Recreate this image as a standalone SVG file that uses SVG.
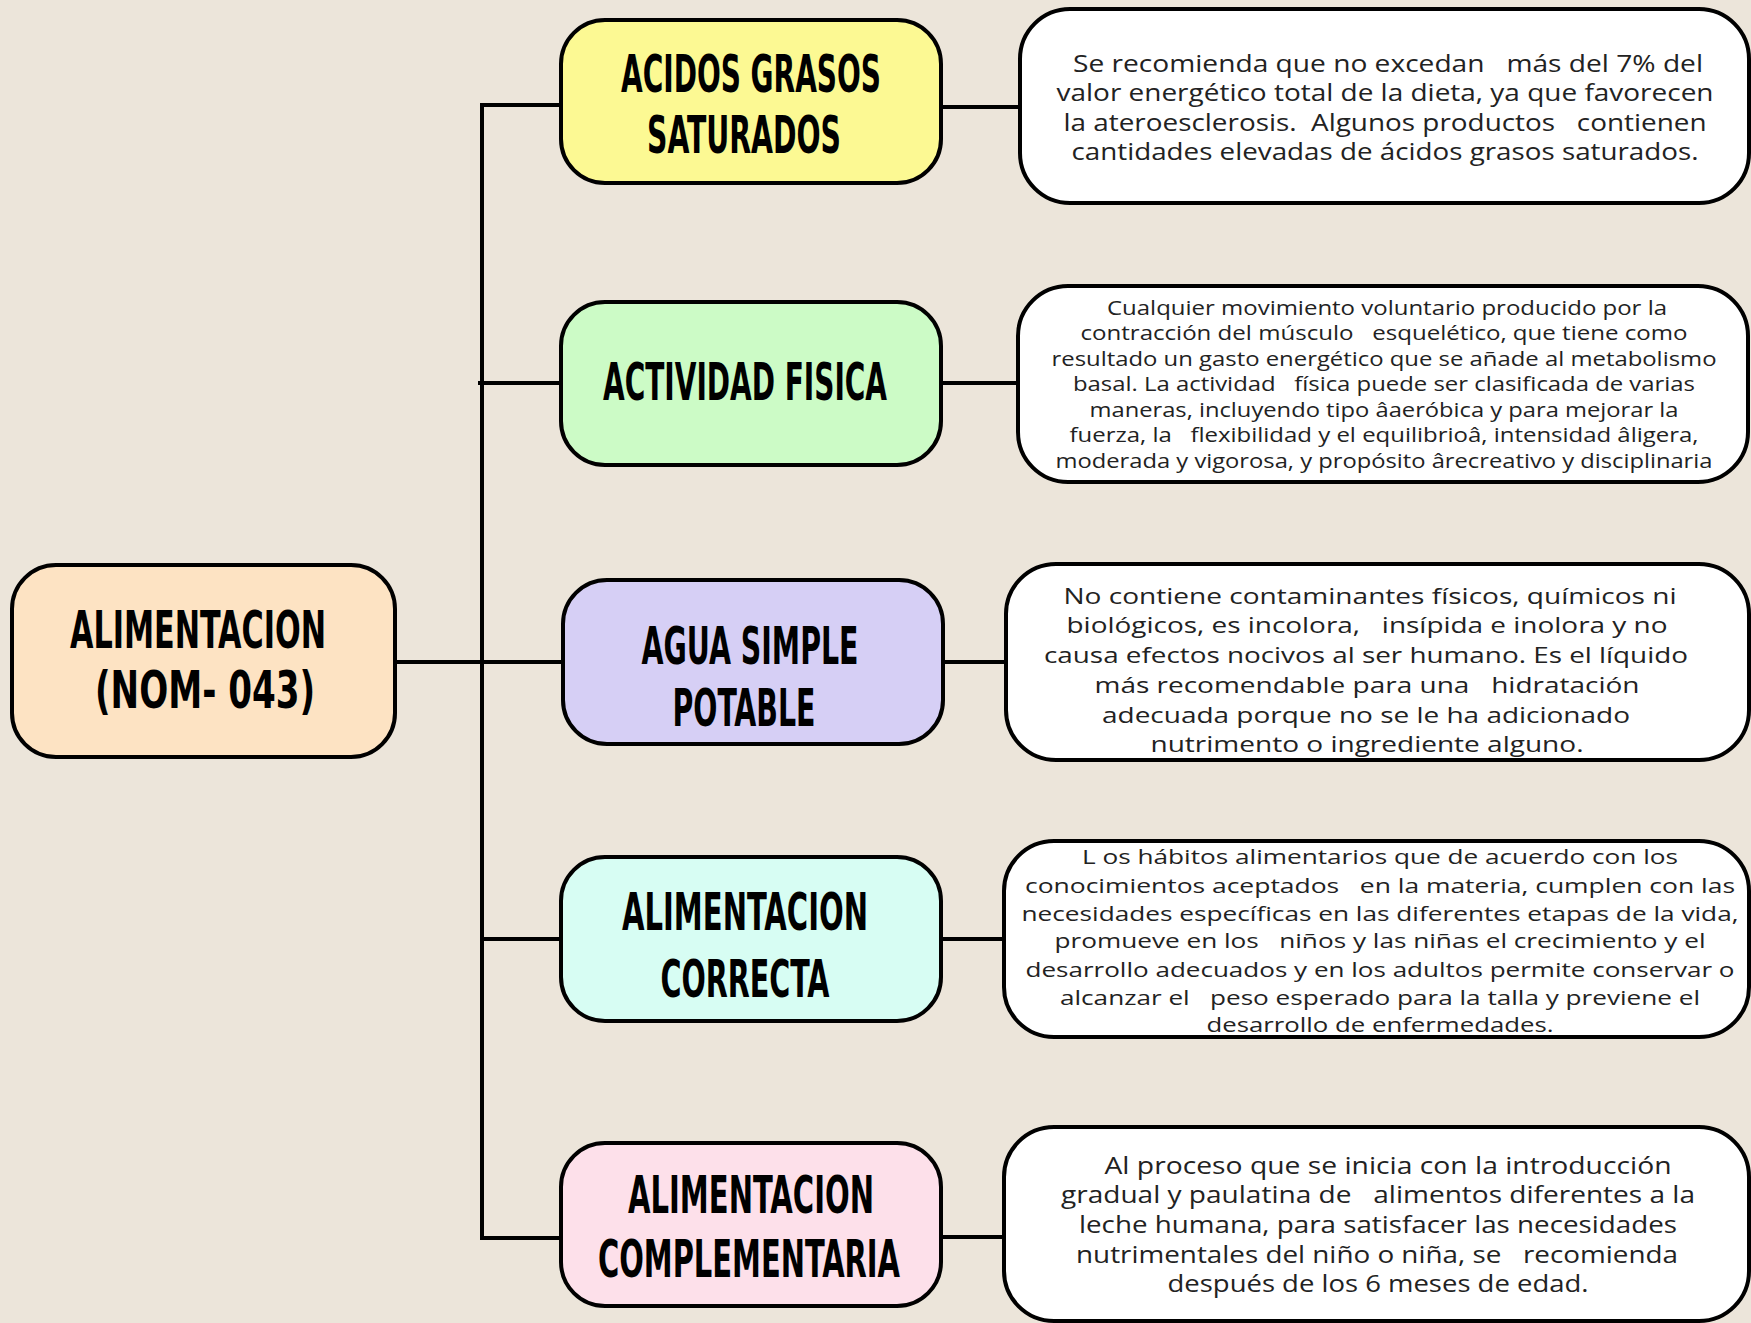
<svg xmlns="http://www.w3.org/2000/svg" width="1751" height="1323" viewBox="0 0 1751 1323">
<style>
.bg{fill:#ece5da}
.box{stroke:#000;stroke-width:4}
.wbox{fill:#fff;stroke:#000;stroke-width:4}
.conn line{stroke:#000;stroke-width:4;stroke-linecap:square}
.hd{font-family:"Liberation Sans Narrow","DejaVu Sans Condensed","Liberation Sans",sans-serif;font-weight:bold;font-size:52px;fill:#000;text-anchor:middle}
.bd{font-family:"Open Sans","Noto Sans","Liberation Sans",sans-serif;fill:#222;text-anchor:middle;font-size:23px;white-space:pre}
.lg{font-size:22.5px}
.sm{font-size:19.5px}
.md{font-size:20.5px}
</style>
<rect class="bg" x="0" y="0" width="1751" height="1323"/>
<g id="connectors" class="conn">
<line x1="482" y1="105" x2="482" y2="1238"/>
<line x1="482" y1="105" x2="561" y2="105"/>
<line x1="480" y1="383" x2="561" y2="383"/>
<line x1="395" y1="662" x2="563" y2="662"/>
<line x1="484" y1="939" x2="561" y2="939"/>
<line x1="482" y1="1238" x2="561" y2="1238"/>
<line x1="941" y1="107" x2="1020" y2="107"/>
<line x1="941" y1="383" x2="1018" y2="383"/>
<line x1="943" y1="662" x2="1006" y2="662"/>
<line x1="941" y1="939" x2="1004" y2="939"/>
<line x1="941" y1="1237" x2="1004" y2="1237"/>
</g>
<g id="n-alimentacion">
<rect class="box" x="12" y="565" width="383" height="192" rx="44" fill="#fde3c3"/>
<text class="hd" font-size="56" x="198" y="648" textLength="256" lengthAdjust="spacingAndGlyphs">ALIMENTACION</text>
<text class="hd" font-size="56" x="205" y="708" textLength="220" lengthAdjust="spacingAndGlyphs">(NOM- 043)</text>
</g>
<g id="n-acidos">
<rect class="box" x="561" y="20" width="380" height="163" rx="44" fill="#fcf993"/>
<text class="hd" x="751" y="92" textLength="260" lengthAdjust="spacingAndGlyphs">ACIDOS GRASOS</text>
<text class="hd" x="744" y="153" textLength="194" lengthAdjust="spacingAndGlyphs">SATURADOS</text>
</g>
<g id="n-actividad">
<rect class="box" x="561" y="302" width="380" height="163" rx="44" fill="#ccfbc6"/>
<text class="hd" x="745" y="400" textLength="284" lengthAdjust="spacingAndGlyphs">ACTIVIDAD FISICA</text>
</g>
<g id="n-agua">
<rect class="box" x="563" y="580" width="380" height="164" rx="44" fill="#d6cff5"/>
<text class="hd" x="750" y="664" textLength="217" lengthAdjust="spacingAndGlyphs">AGUA SIMPLE</text>
<text class="hd" x="744" y="726" textLength="143" lengthAdjust="spacingAndGlyphs">POTABLE</text>
</g>
<g id="n-correcta">
<rect class="box" x="561" y="857" width="380" height="164" rx="44" fill="#d7fdf3"/>
<text class="hd" x="745" y="930" textLength="246" lengthAdjust="spacingAndGlyphs">ALIMENTACION</text>
<text class="hd" x="745" y="997" textLength="169" lengthAdjust="spacingAndGlyphs">CORRECTA</text>
</g>
<g id="n-complementaria">
<rect class="box" x="561" y="1143" width="380" height="163" rx="44" fill="#fde0ea"/>
<text class="hd" x="751" y="1213" textLength="246" lengthAdjust="spacingAndGlyphs">ALIMENTACION</text>
<text class="hd" x="749" y="1277" textLength="302" lengthAdjust="spacingAndGlyphs">COMPLEMENTARIA</text>
</g>
<g id="d-acidos">
<rect class="wbox" x="1020" y="9" width="729" height="194" rx="50"/>
<text class="bd" x="1388" y="72" textLength="630" lengthAdjust="spacingAndGlyphs">Se recomienda que no excedan   más del 7% del</text>
<text class="bd" x="1385" y="101" textLength="657" lengthAdjust="spacingAndGlyphs">valor energético total de la dieta, ya que favorecen</text>
<text class="bd" x="1385" y="131" textLength="643" lengthAdjust="spacingAndGlyphs">la ateroesclerosis.  Algunos productos   contienen</text>
<text class="bd" x="1385" y="160" textLength="627" lengthAdjust="spacingAndGlyphs">cantidades elevadas de ácidos grasos saturados.</text>
</g>
<g id="d-actividad">
<rect class="wbox" x="1018" y="286" width="730" height="196" rx="50"/>
<text class="bd sm" x="1387" y="315" textLength="560" lengthAdjust="spacingAndGlyphs">Cualquier movimiento voluntario producido por la</text>
<text class="bd sm" x="1384" y="340" textLength="607" lengthAdjust="spacingAndGlyphs">contracción del músculo   esquelético, que tiene como</text>
<text class="bd sm" x="1384" y="366" textLength="665" lengthAdjust="spacingAndGlyphs">resultado un gasto energético que se añade al metabolismo</text>
<text class="bd sm" x="1384" y="391" textLength="622" lengthAdjust="spacingAndGlyphs">basal. La actividad   física puede ser clasificada de varias</text>
<text class="bd sm" x="1384" y="417" textLength="589" lengthAdjust="spacingAndGlyphs">maneras, incluyendo tipo âaeróbica y para mejorar la</text>
<text class="bd sm" x="1384" y="442" textLength="629" lengthAdjust="spacingAndGlyphs">fuerza, la   flexibilidad y el equilibrioâ, intensidad âligera,</text>
<text class="bd sm" x="1384" y="468" textLength="657" lengthAdjust="spacingAndGlyphs">moderada y vigorosa, y propósito ârecreativo y disciplinaria</text>
</g>
<g id="d-agua">
<rect class="wbox" x="1006" y="564" width="743" height="196" rx="50"/>
<text class="bd lg" x="1370" y="604" textLength="613" lengthAdjust="spacingAndGlyphs">No contiene contaminantes físicos, químicos ni</text>
<text class="bd lg" x="1367" y="633" textLength="601" lengthAdjust="spacingAndGlyphs">biológicos, es incolora,   insípida e inolora y no</text>
<text class="bd lg" x="1366" y="663" textLength="644" lengthAdjust="spacingAndGlyphs">causa efectos nocivos al ser humano. Es el líquido</text>
<text class="bd lg" x="1367" y="693" textLength="545" lengthAdjust="spacingAndGlyphs">más recomendable para una   hidratación</text>
<text class="bd lg" x="1366" y="723" textLength="528" lengthAdjust="spacingAndGlyphs">adecuada porque no se le ha adicionado</text>
<text class="bd lg" x="1367" y="752" textLength="433" lengthAdjust="spacingAndGlyphs">nutrimento o ingrediente alguno.</text>
</g>
<g id="d-correcta">
<rect class="wbox" x="1004" y="841" width="745" height="196" rx="50"/>
<text class="bd md" x="1380" y="864" textLength="596" lengthAdjust="spacingAndGlyphs">L os hábitos alimentarios que de acuerdo con los</text>
<text class="bd md" x="1380" y="893" textLength="710" lengthAdjust="spacingAndGlyphs">conocimientos aceptados   en la materia, cumplen con las</text>
<text class="bd md" x="1380" y="921" textLength="717" lengthAdjust="spacingAndGlyphs">necesidades específicas en las diferentes etapas de la vida,</text>
<text class="bd md" x="1380" y="948" textLength="651" lengthAdjust="spacingAndGlyphs">promueve en los   niños y las niñas el crecimiento y el</text>
<text class="bd md" x="1380" y="977" textLength="709" lengthAdjust="spacingAndGlyphs">desarrollo adecuados y en los adultos permite conservar o</text>
<text class="bd md" x="1380" y="1005" textLength="640" lengthAdjust="spacingAndGlyphs">alcanzar el   peso esperado para la talla y previene el</text>
<text class="bd md" x="1380" y="1032" textLength="347" lengthAdjust="spacingAndGlyphs">desarrollo de enfermedades.</text>
</g>
<g id="d-complementaria">
<rect class="wbox" x="1004" y="1127" width="745" height="194" rx="50"/>
<text class="bd" x="1388" y="1174" textLength="567" lengthAdjust="spacingAndGlyphs">Al proceso que se inicia con la introducción</text>
<text class="bd" x="1378" y="1203" textLength="634" lengthAdjust="spacingAndGlyphs">gradual y paulatina de   alimentos diferentes a la</text>
<text class="bd" x="1378" y="1233" textLength="598" lengthAdjust="spacingAndGlyphs">leche humana, para satisfacer las necesidades</text>
<text class="bd" x="1377" y="1263" textLength="602" lengthAdjust="spacingAndGlyphs">nutrimentales del niño o niña, se   recomienda</text>
<text class="bd" x="1378" y="1292" textLength="421" lengthAdjust="spacingAndGlyphs">después de los 6 meses de edad.</text>
</g>
</svg>
